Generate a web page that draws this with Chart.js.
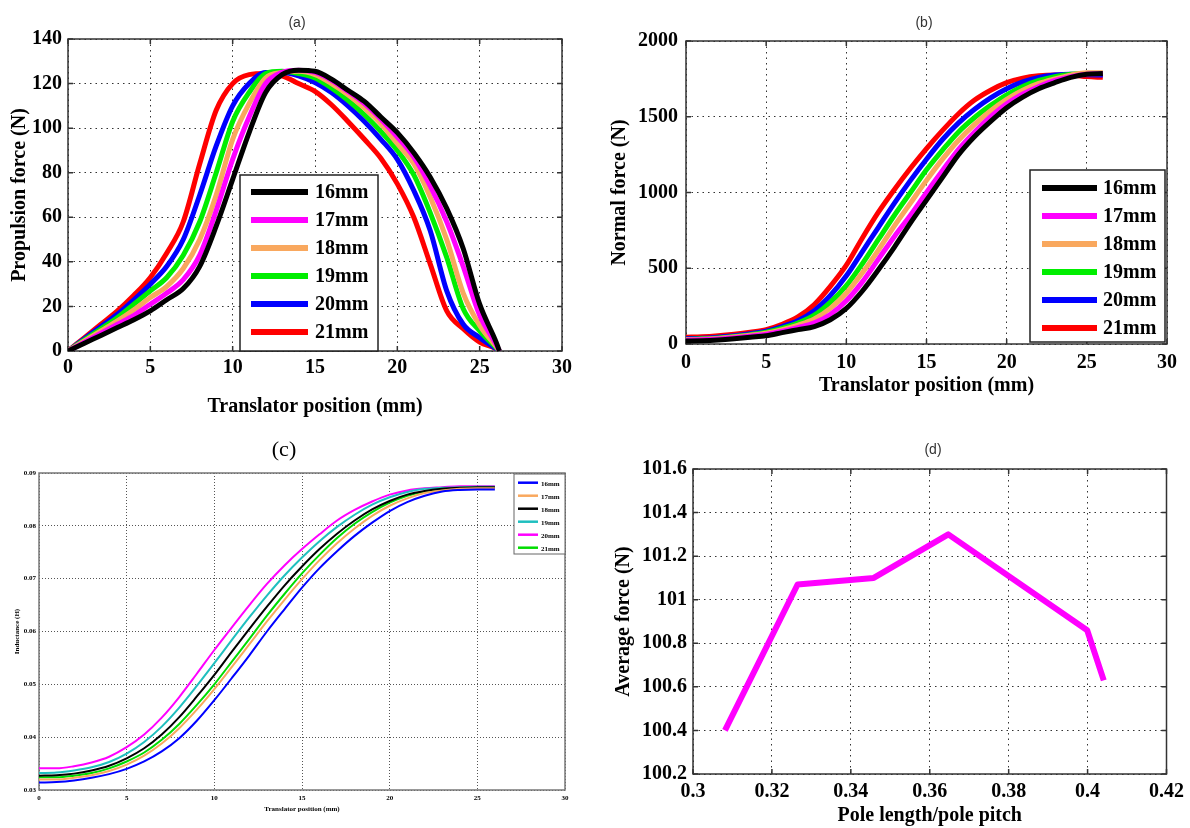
<!DOCTYPE html>
<html><head><meta charset="utf-8">
<script src="https://cdn.jsdelivr.net/npm/chart.js@4.4.1/dist/chart.umd.min.js"></script>
<style>
body{margin:0;background:#fff;width:1190px;height:828px;position:relative;overflow:hidden}
canvas{position:absolute}
.t{position:absolute;transform:translate(-50%,-50%);white-space:nowrap}
</style></head><body>
<canvas id="ca" width="595" height="420" style="left:0;top:0"></canvas>
<canvas id="cb" width="595" height="420" style="left:595px;top:0"></canvas>
<canvas id="cc" width="595" height="398" style="left:0;top:430px"></canvas>
<canvas id="cd" width="595" height="398" style="left:595px;top:430px"></canvas>
<div class="t" style="left:297px;top:22px;font:14px 'Liberation Sans';color:#333">(a)</div>
<div class="t" style="left:924px;top:22px;font:14px 'Liberation Sans';color:#333">(b)</div>
<div class="t" style="left:284px;top:449px;font:22px 'Liberation Serif';color:#000">(c)</div>
<div class="t" style="left:933px;top:449px;font:14px 'Liberation Sans';color:#333">(d)</div>
<script>
// ---------- data ----------
const seriesLabels = ['16mm','17mm','18mm','19mm','20mm','21mm'];

// (a) propulsion force vs translator position
const posA = [0,1,2,3,4,5,6,7,8,9,10,11,12,13,14,15,16,17,18,19,20,21,22,23,24,25,26,26.2];
const a16 = [0,3.5,7,10.5,14,18,23,28,38,56,77,98,116,124,126,125.5,122,117,112,105,98,89,78,64,46,21,4,0];
const a17 = [0,4,8,12,16,21,26,32,43,63,86,105,120,125,126,125,121.5,116.5,111,104,96,87,74,58,38,16,3,0];
const a18 = [0,4.5,9,13.5,18.5,24,29,37,50,70,95,111,122.5,125,125.5,124,120,115,109,102,93,84,69,50,26,11.5,2,0];
const a19 = [0,5,10,15,21,27,33,43,58,80,103,116,124.5,125.5,124.5,122.5,118,112.5,106,98.5,90,79,62,42,19,9,1.5,0];
const a20 = [0,5.5,11,16.5,23,30,38,50,70,92,110,120,125,125,123.5,120.5,116,110,103,95,86,72,54,27,12,6,1,0];
const a21 = [0,6,12,18,25,33,44,58,84,108,120,124,124.5,123.5,120,116.5,110.5,103,95,86.5,75,60,39,18,10,4,1,0];

// (b) normal force vs translator position
const posB = [0,1,2,3,4,5,6,7,8,9,10,11,12,13,14,15,16,17,18,19,20,21,22,23,24,25,26];
const b16 = [20,22,27,35,45,55,75,95,115,160,235,350,490,640,800,950,1100,1250,1370,1470,1560,1630,1685,1725,1760,1780,1785];
const b17 = [25,28,33,42,52,65,85,110,140,195,285,410,560,710,850,1000,1145,1285,1400,1500,1585,1650,1700,1740,1765,1780,1785];
const b18 = [28,31,37,46,58,72,95,125,165,235,335,470,620,780,930,1080,1220,1345,1450,1540,1615,1675,1720,1750,1775,1790,1790];
const b19 = [30,34,40,50,62,78,105,140,190,275,385,530,690,850,1000,1150,1280,1400,1495,1575,1645,1700,1740,1765,1780,1785,1785];
const b20 = [35,38,45,55,68,85,115,155,220,320,450,610,770,930,1080,1220,1350,1460,1550,1625,1685,1730,1760,1775,1780,1778,1775];
const b21 = [45,48,55,65,78,95,130,180,260,380,520,700,870,1020,1160,1290,1410,1520,1610,1675,1725,1755,1770,1775,1775,1765,1760];

// (c) inductance vs translator position
const posC = [0,1,2,3,4,5,6,7,8,9,10,11,12,13,14,15,16,17,18,19,20,21,22,23,24,25,26];
const c16 = [0.0314,0.0315,0.0318,0.0323,0.0330,0.0340,0.0354,0.0373,0.0398,0.0431,0.0470,0.0512,0.0555,0.0600,0.0642,0.0683,0.0720,0.0752,0.0781,0.0806,0.0828,0.0845,0.0857,0.0865,0.0868,0.0869,0.0869];
const c17 = [0.0320,0.0320,0.0323,0.0328,0.0336,0.0348,0.0365,0.0388,0.0417,0.0452,0.0491,0.0533,0.0576,0.0619,0.0660,0.0699,0.0735,0.0767,0.0795,0.0819,0.0838,0.0852,0.0862,0.0867,0.0870,0.0871,0.0871];
const c18 = [0.0327,0.0328,0.0331,0.0337,0.0346,0.0360,0.0379,0.0405,0.0438,0.0477,0.0518,0.0562,0.0605,0.0647,0.0687,0.0723,0.0756,0.0785,0.0810,0.0831,0.0847,0.0859,0.0866,0.0870,0.0872,0.0873,0.0873];
const c19 = [0.0332,0.0333,0.0337,0.0343,0.0353,0.0369,0.0391,0.0420,0.0456,0.0497,0.0540,0.0584,0.0627,0.0668,0.0706,0.0740,0.0771,0.0798,0.0821,0.0840,0.0854,0.0864,0.0870,0.0872,0.0873,0.0874,0.0874];
const c20 = [0.0341,0.0341,0.0345,0.0352,0.0363,0.0381,0.0405,0.0437,0.0476,0.0520,0.0565,0.0608,0.0650,0.0690,0.0725,0.0756,0.0784,0.0810,0.0830,0.0846,0.0859,0.0867,0.0871,0.0873,0.0875,0.0875,0.0875];
const c21 = [0.0324,0.0324,0.0327,0.0332,0.0341,0.0354,0.0371,0.0395,0.0425,0.0461,0.0500,0.0543,0.0586,0.0630,0.0671,0.0710,0.0745,0.0777,0.0804,0.0826,0.0844,0.0857,0.0865,0.0869,0.0871,0.0872,0.0872];

// (d) average force vs pole length / pole pitch
const ratioD = [0.3081,0.3265,0.3458,0.3647,0.3999,0.4041];
const forceD = [100.40,101.07,101.10,101.30,100.86,100.63];

// ---------- styles ----------
const colorsAB = ['#000000','#ff00ff','#f9a85e','#00ee00','#0000ff','#ff0000'];
const colorsC = ['#0000ff','#f9a85e','#000000','#1fbfbf','#ff00ff','#00dd00'];
const SERIF = '"Liberation Serif", "Times New Roman", serif';

const framePlugin = {
  id: 'frame',
  beforeDatasetsDraw(chart, args, o) {
    const {ctx, chartArea: a, scales} = chart;
    ctx.save();
    ctx.strokeStyle = o.color; ctx.lineWidth = o.width;
    ctx.strokeRect(a.left, a.top, a.right - a.left, a.bottom - a.top);
    const L = o.tick || 0;
    if (L) {
      ctx.beginPath();
      scales.x.ticks.forEach(t => {
        const p = scales.x.getPixelForValue(t.value);
        ctx.moveTo(p, a.bottom); ctx.lineTo(p, a.bottom - L);
        ctx.moveTo(p, a.top); ctx.lineTo(p, a.top + L);
      });
      scales.y.ticks.forEach(t => {
        const p = scales.y.getPixelForValue(t.value);
        ctx.moveTo(a.left, p); ctx.lineTo(a.left + L, p);
        ctx.moveTo(a.right, p); ctx.lineTo(a.right - L, p);
      });
      ctx.stroke();
    }
    ctx.restore();
  }
};

const boxLegend = {
  id: 'boxLegend',
  afterDatasetsDraw(chart, args, o) {
    if (!o || !o.box) return;
    const ctx = chart.ctx; const [x, y, w, h] = o.box;
    ctx.save();
    ctx.fillStyle = '#fff'; ctx.fillRect(x, y, w, h);
    ctx.strokeStyle = o.border; ctx.lineWidth = o.borderWidth; ctx.strokeRect(x, y, w, h);
    ctx.font = o.font; ctx.textBaseline = 'middle'; ctx.textAlign = 'left'; ctx.fillStyle = '#000';
    chart.data.datasets.forEach((ds, i) => {
      const yy = y + o.first + i * o.row;
      ctx.strokeStyle = ds.borderColor; ctx.lineWidth = o.lineW;
      ctx.beginPath(); ctx.moveTo(o.lineX, yy); ctx.lineTo(o.lineX + o.lineLen, yy); ctx.stroke();
      ctx.fillText(ds.label, o.textX, yy + 1);
    });
    ctx.restore();
  }
};

function pts(xs, ys) { return xs.map((x, i) => ({x: x, y: ys[i]})); }

function axis(p) {
  return {
    type: 'linear', min: p.min, max: p.max,
    ticks: { stepSize: p.step, padding: p.pad, color: '#000', autoSkip: false, maxRotation: 0,
      font: {family: SERIF, size: p.fs, weight: 'bold'}, callback: p.cb },
    grid: { color: p.gridColor, lineWidth: 1, drawTicks: false },
    border: { display: false, dash: p.dash },
    title: { display: true, text: p.title, color: '#000',
      font: {family: SERIF, size: p.tfs, weight: 'bold'}, padding: p.tpad },
    afterFit: p.fit
  };
}

function makeChart(id, xs, seriesList, colors, lw, p) {
  const datasets = seriesList.map((s, i) => {
    const ds = {
      label: p.labels ? p.labels[i] : '', data: pts(xs, s), borderColor: colors[i], backgroundColor: colors[i],
      borderWidth: lw, pointRadius: 0, fill: false, borderJoinStyle: 'round', tension: 0
    };
    if (p.smooth) ds.cubicInterpolationMode = 'monotone';
    return ds;
  });
  return new Chart(document.getElementById(id), {
    type: 'line',
    data: { datasets: datasets },
    options: {
      responsive: false, animation: false, devicePixelRatio: 1,
      layout: { padding: p.padding },
      scales: { x: axis(p.x), y: axis(p.y) },
      plugins: { legend: {display: false}, tooltip: {enabled: false}, title: {display: false},
        frame: p.frame, boxLegend: p.legend }
    },
    plugins: [framePlugin, boxLegend]
  });
}

const fmt = d => v => String(+Number(v).toFixed(d));

// (a)
makeChart('ca', posA, [a16,a17,a18,a19,a20,a21], colorsAB, 5, {
  labels: seriesLabels, smooth: true,
  padding: {top: 39, right: 33, left: 0, bottom: 0},
  x: {min: 0, max: 30, step: 5, pad: 5, fs: 20, cb: fmt(0), gridColor: '#333', dash: [1.5, 4],
      title: 'Translator position (mm)', tfs: 20, tpad: {top: 0, bottom: 1}, fit: s => { s.height = 69; }},
  y: {min: 0, max: 140, step: 20, pad: 6, fs: 20, cb: fmt(0), gridColor: '#333', dash: [1.5, 4],
      title: 'Propulsion force (N)', tfs: 20, tpad: {top: 8, bottom: 0}, fit: s => { s.width = 68; }},
  frame: {color: '#333', width: 1.5, tick: 5},
  legend: {box: [240, 175, 138, 176], first: 17, row: 28, lineX: 251, lineLen: 57, textX: 315, lineW: 6,
           font: 'bold 20px ' + SERIF, border: '#222', borderWidth: 1.5}
});

// (b)
makeChart('cb', posB, [b16,b17,b18,b19,b20,b21], colorsAB, 5, {
  labels: seriesLabels, smooth: true,
  padding: {top: 41, right: 23, left: 0, bottom: 0},
  x: {min: 0, max: 30, step: 5, pad: 7, fs: 20, cb: fmt(0), gridColor: '#333', dash: [1.5, 4],
      title: 'Translator position (mm)', tfs: 20, tpad: {top: 0, bottom: 22}, fit: s => { s.height = 76; }},
  y: {min: 0, max: 2000, step: 500, pad: 8, fs: 20, cb: fmt(0), gridColor: '#333', dash: [1.5, 4],
      title: 'Normal force (N)', tfs: 20, tpad: {top: 13, bottom: 0}, fit: s => { s.width = 91; }},
  frame: {color: '#333', width: 1.5, tick: 5},
  legend: {box: [435, 170, 135, 172], first: 18, row: 28, lineX: 447, lineLen: 55, textX: 508, lineW: 6,
           font: 'bold 20px ' + SERIF, border: '#222', borderWidth: 1.5}
});

// (c)
makeChart('cc', posC, [c16,c17,c18,c19,c20,c21], colorsC, 2, {
  labels: seriesLabels, smooth: true,
  padding: {top: 43, right: 30, left: 0, bottom: 0},
  x: {min: 0, max: 30, step: 5, pad: 4, fs: 7, cb: fmt(0), gridColor: '#555', dash: [1, 2],
      title: 'Translator position (mm)', tfs: 7, tpad: {top: 0, bottom: 15}, fit: s => { s.height = 38; }},
  y: {min: 0.03, max: 0.09, step: 0.01, pad: 3, fs: 7, cb: v => Number(v).toFixed(2), gridColor: '#555', dash: [1, 2],
      title: 'Inductance (H)', tfs: 7, tpad: {top: 13, bottom: 0}, fit: s => { s.width = 39; }},
  frame: {color: '#777', width: 1.5, tick: 0},
  legend: {box: [514, 44, 51, 80], first: 8.7, row: 13, lineX: 518, lineLen: 20, textX: 541, lineW: 2.5,
           font: 'bold 7px ' + SERIF, border: '#666', borderWidth: 1}
});

// (d)
makeChart('cd', ratioD, [forceD], ['#ff00ff'], 6, {
  smooth: false,
  padding: {top: 39, right: 14, left: 0, bottom: 0},
  x: {min: 0.3, max: 0.42, step: 0.02, pad: 6, fs: 20, cb: fmt(2), gridColor: '#333', dash: [1.5, 4],
      title: 'Pole length/pole pitch', tfs: 20, tpad: {top: 0, bottom: 0}, fit: s => { s.height = 54; }},
  y: {min: 100.2, max: 101.6, step: 0.2, pad: 6, fs: 20, cb: fmt(1), gridColor: '#333', dash: [1.5, 4],
      title: 'Average force (N)', tfs: 20, tpad: {top: 17, bottom: 0}, fit: s => { s.width = 98; }},
  frame: {color: '#333', width: 1.5, tick: 5},
  legend: null
});
</script>
</body></html>
